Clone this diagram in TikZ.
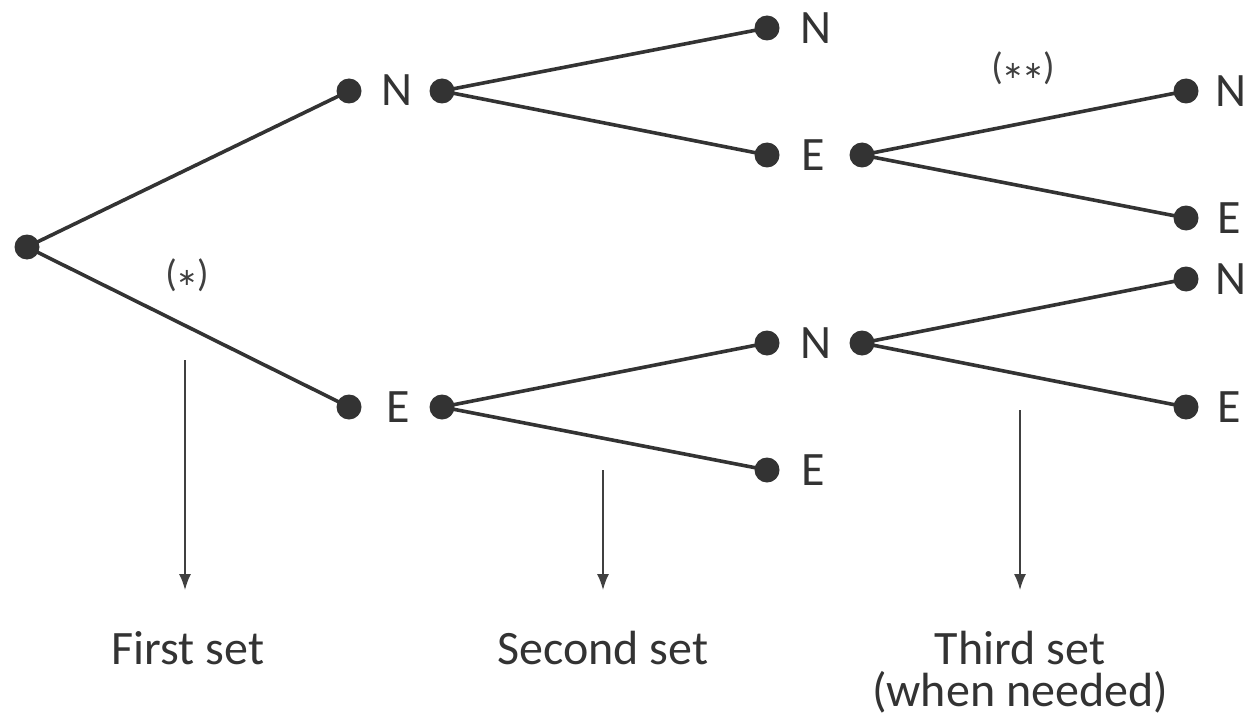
\documentclass[tikz,border=0pt]{standalone}
\usepackage{fontspec}
\setmainfont{Carlito}
\newfontfamily\symfont{DejaVu Sans}
\usetikzlibrary{arrows.meta}
\newcommand{\myast}{{\symfont\fontsize{24}{26}\selectfont\raisebox{1pt}{∗}}}
\begin{document}
\begin{tikzpicture}[x=1pt,y=-1pt,
  dot/.style={circle,fill=black!80,inner sep=0pt,minimum size=25pt},
  lab/.style={inner sep=0pt,text=black!80,font=\fontsize{48}{50}\selectfont},
  edge/.style={line width=3.6pt,draw=black!80},
  down/.style={line width=1.6pt,draw=black!75,-{Latex[length=16pt,width=12pt]}},
  note/.style={inner sep=0pt,text=black!75,font=\fontsize{38}{40}\selectfont},
  captxt/.style={inner sep=0pt,anchor=base,align=center,text=black!80,font=\fontsize{48}{42}\selectfont}]
\useasboundingbox (0,0) rectangle (1246,722);
% nodes
\node[dot] (r) at (27,247) {};
\node[dot] (a1) at (349,91) {};
\node[lab] (aN) at (397,90) {N};
\node[dot] (a2) at (442,91) {};
\node[dot] (b1) at (349,407) {};
\node[lab] (bE) at (398,407) {E};
\node[dot] (b2) at (442,407) {};
\node[dot] (c1) at (767,28) {};
\node[lab] (cN) at (816,28) {N};
\node[dot] (d1) at (767,155) {};
\node[lab] (dE) at (813,155) {E};
\node[dot] (d2) at (862,155) {};
\node[dot] (e1) at (1186,91) {};
\node[lab] (eN) at (1231,91) {N};
\node[dot] (f1) at (1186,218) {};
\node[lab] (fE) at (1229,218) {E};
\node[dot] (g1) at (767,343) {};
\node[lab] (gN) at (816,343) {N};
\node[dot] (g2) at (862,343) {};
\node[dot] (h1) at (767,470) {};
\node[lab] (hE) at (813,470) {E};
\node[dot] (i1) at (1186,279) {};
\node[lab] (iN) at (1231,279) {N};
\node[dot] (j1) at (1186,407) {};
\node[lab] (jE) at (1229,407) {E};
% edges
\draw[edge] (r.center) -- (a1.center);
\draw[edge] (r.center) -- (b1.center);
\draw[edge] (a2.center) -- (c1.center);
\draw[edge] (a2.center) -- (d1.center);
\draw[edge] (d2.center) -- (e1.center);
\draw[edge] (d2.center) -- (f1.center);
\draw[edge] (b2.center) -- (g1.center);
\draw[edge] (b2.center) -- (h1.center);
\draw[edge] (g2.center) -- (i1.center);
\draw[edge] (g2.center) -- (j1.center);
% notes
\node[note] (s1) at (187,275) {(\myast)};
\node[note] (s2) at (1023,68) {(\myast\myast)};
% arrows
\coordinate (t1) at (185,360); \coordinate (u1) at (185,590);
\coordinate (t2) at (603,470); \coordinate (u2) at (603,590);
\coordinate (t3) at (1020,410); \coordinate (u3) at (1020,590);
\draw[down] (t1) -- (u1);
\draw[down] (t2) -- (u2);
\draw[down] (t3) -- (u3);
% captions
\node[captxt] (k1) at (188,664) {First set};
\node[captxt] (k2) at (603,664) {Second set};
\node[captxt] (k3) at (1020,706) {Third set\\(when needed)};
\end{tikzpicture}
\end{document}
